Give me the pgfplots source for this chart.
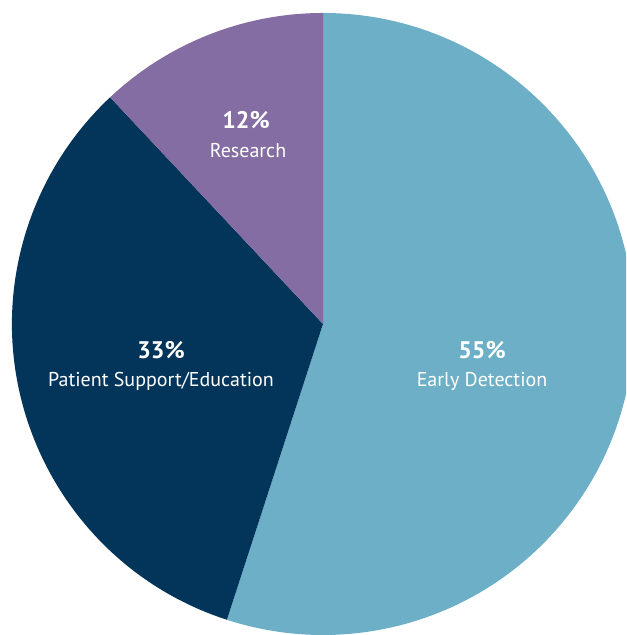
\documentclass[border=0pt]{standalone}
\usepackage{pgfplots}
\pgfplotsset{compat=1.18}
\usepackage{fontspec}
\setmainfont{PT Sans}

\definecolor{early}{HTML}{6CAFC7}
\definecolor{patient}{HTML}{03355A}
\definecolor{research}{HTML}{836DA3}

% shares (percent), clockwise from 12 o'clock
\def\pctEarly{55}
\def\pctPatient{33}
\def\pctResearch{12}

\pgfmathsetmacro{\aA}{90}
\pgfmathsetmacro{\aB}{\aA-3.6*\pctEarly}
\pgfmathsetmacro{\aC}{\aB-3.6*\pctPatient}
\pgfmathsetmacro{\aD}{\aC-3.6*\pctResearch}
\def\R{155.5pt}

\begin{document}
\begin{tikzpicture}
\begin{axis}[
    width=313pt, height=317.5pt,
    scale only axis,
    xmin=0, xmax=626,
    ymin=0, ymax=635,
    hide axis,
    clip=true,
    clip bounding box=upper bound,
]
\addplot[draw=none, forget plot] coordinates {(0,0) (626,635)};
\fill[early] (axis cs:323,311) -- ++(\aA:\R) arc[start angle=\aA, end angle=\aB, radius=\R] -- cycle;
\fill[patient] (axis cs:323,311) -- ++(\aB:\R) arc[start angle=\aB, end angle=\aC, radius=\R] -- cycle;
\fill[research] (axis cs:323,311) -- ++(\aC:\R) arc[start angle=\aC, end angle=\aD, radius=\R] -- cycle;

\node[white, font=\bfseries\fontsize{12}{14}\selectfont] at (axis cs:246,515) {\pctResearch\%};
\node[white, font=\fontsize{10}{12}\selectfont] at (axis cs:248,484) {Research};
\node[white, font=\bfseries\fontsize{12}{14}\selectfont] at (axis cs:161,285) {\pctPatient\%};
\node[white, font=\fontsize{10}{12}\selectfont] at (axis cs:161,254) {Patient Support/Education};
\node[white, font=\bfseries\fontsize{12}{14}\selectfont] at (axis cs:482,285) {\pctEarly\%};
\node[white, font=\fontsize{10}{12}\selectfont] at (axis cs:482,254) {Early Detection};
\end{axis}
\end{tikzpicture}
\end{document}
